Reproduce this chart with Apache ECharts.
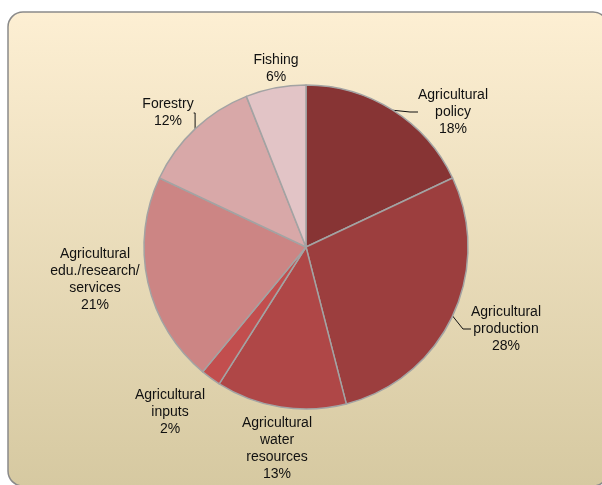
<!DOCTYPE html>
<html>
<head>
<meta charset="utf-8">
<script src="https://cdn.jsdelivr.net/npm/echarts@6/dist/echarts.min.js"></script>
<style>html,body{margin:0;padding:0;background:#fff}#c{width:602px;height:485px}</style>
</head>
<body>
<div id="c"></div>
<script>
const categories = ['Agricultural\npolicy', 'Agricultural\nproduction', 'Agricultural\nwater\nresources', 'Agricultural\ninputs', 'Agricultural\nedu./research/\nservices', 'Forestry', 'Fishing'];
const values = [18, 28, 13, 2, 21, 12, 6];
const colors = ['#873434', '#9C3E3E', '#AF4747', '#C24E4E', '#CC8584', '#D8A8A8', '#E2C4C6'];

// label block centres (layout only)
const labelPos = [[453, 112], [506, 329], [277, 449], [170, 412], [95, 280], [168, 113], [276, 69]];
const showLine = [true, true, false, false, false, true, false];

const chart = echarts.init(document.getElementById('c'), null, {renderer: 'canvas'});
chart.setOption({
  animation: false,
  graphic: [{
    type: 'rect',
    shape: {x: 8, y: 12, width: 600, height: 474, r: 15},
    style: {
      fill: new echarts.graphic.LinearGradient(0, 0, 0, 1, [
        {offset: 0, color: '#FDEFD3'},
        {offset: 1, color: '#D6C9A1'}
      ]),
      stroke: '#8A8A8A',
      lineWidth: 1.5
    },
    z: -10
  }],
  series: [{
    type: 'pie',
    center: [306, 247],
    radius: 162,
    startAngle: 90,
    clockwise: true,
    itemStyle: {borderColor: '#A3A3A3', borderWidth: 1.5},
    label: {
      show: true,
      position: 'outside',
      formatter: '{b}\n{d}%',
      fontFamily: 'Liberation Sans, Arial, sans-serif',
      fontSize: 14,
      lineHeight: 17,
      color: '#111',
      align: 'center'
    },
    labelLine: {show: true, length: 6, length2: 8, smooth: false, lineStyle: {color: '#111', width: 1}},
    labelLayout: function (p) {
      const pos = labelPos[p.dataIndex];
      return {x: pos[0], y: pos[1], align: 'center', verticalAlign: 'middle'};
    },
    data: values.map((v, i) => ({
      name: categories[i],
      value: v,
      itemStyle: {color: colors[i]},
      labelLine: {show: showLine[i]}
    }))
  }]
});
</script>
</body>
</html>
